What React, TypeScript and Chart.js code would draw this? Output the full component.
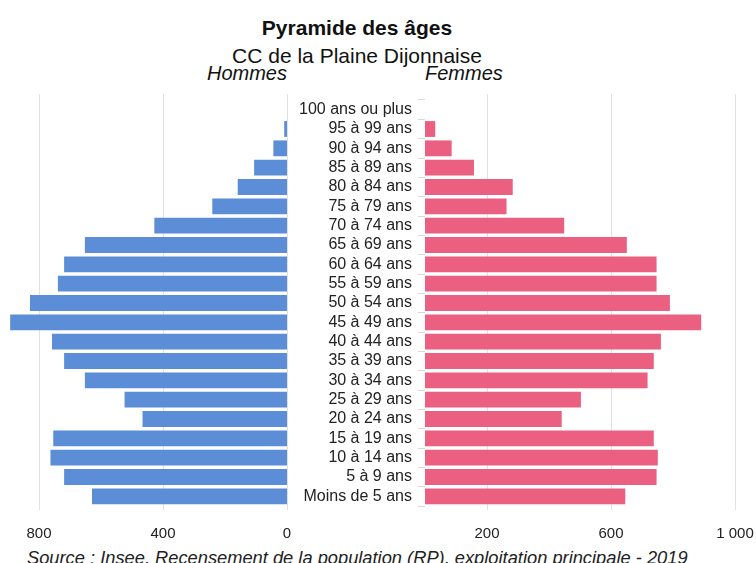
import React, { useEffect, useRef } from "react";
import { Chart, registerables } from "chart.js";

Chart.register(...registerables);

const CATEGORIES = [
  "100 ans ou plus", "95 à 99 ans", "90 à 94 ans", "85 à 89 ans", "80 à 84 ans",
  "75 à 79 ans", "70 à 74 ans", "65 à 69 ans", "60 à 64 ans", "55 à 59 ans",
  "50 à 54 ans", "45 à 49 ans", "40 à 44 ans", "35 à 39 ans", "30 à 34 ans",
  "25 à 29 ans", "20 à 24 ans", "15 à 19 ans", "10 à 14 ans", "5 à 9 ans",
  "Moins de 5 ans",
];
const HOMMES = [0, 9, 44, 106, 159, 241, 428, 652, 719, 739, 829, 893, 758, 719, 652, 524, 466, 754, 763, 719, 629];
const FEMMES = [0, 33, 86, 158, 283, 263, 449, 651, 747, 747, 790, 891, 761, 738, 718, 503, 441, 738, 751, 747, 646];
const LEFT_TICKS = [0, 400, 800];
const RIGHT_TICKS = [200, 600, 1000];

const TITLE = "Pyramide des âges";
const SUBTITLE = "CC de la Plaine Dijonnaise";
const SOURCE = "Source : Insee, Recensement de la population (RP), exploitation principale - 2019";

const FONT = "'Liberation Sans', Arial, sans-serif";
const BLUE = "#5b8ed6";
const PINK = "#eb6080";
const GRID = "#e0e0e0";

const fmt = (v: number) => String(v).replace(/\B(?=(\d{3})+(?!\d))/g, " ");

const zeroPad = (s: any) => {
  s.paddingTop = 0;
  s.paddingBottom = 0;
  s.paddingLeft = 0;
  s.paddingRight = 0;
};

const extGrid = {
  id: "extGrid",
  beforeDatasetsDraw(chart: any) {
    const s = chart.scales.x;
    const { top, bottom } = chart.chartArea;
    const ctx = chart.ctx;
    ctx.save();
    ctx.strokeStyle = GRID;
    ctx.lineWidth = 1;
    for (const t of s.ticks) {
      const x = Math.round(s.getPixelForValue(t.value)) + 0.5;
      ctx.beginPath();
      ctx.moveTo(x, top - 6);
      ctx.lineTo(x, bottom + 4);
      ctx.stroke();
    }
    ctx.restore();
  },
};

function baseOptions(padding: any): any {
  return {
    indexAxis: "y",
    animation: false,
    responsive: false,
    maintainAspectRatio: false,
    layout: { padding },
    plugins: { legend: { display: false }, tooltip: { enabled: false }, title: { display: false } },
    datasets: { bar: { barPercentage: 0.82, categoryPercentage: 1 } },
  };
}

export default function App() {
  const leftRef = useRef<HTMLCanvasElement>(null);
  const rightRef = useRef<HTMLCanvasElement>(null);

  useEffect(() => {
    const leftOpts = baseOptions({ left: 8, right: 13, top: 10, bottom: 4 });
    leftOpts.scales = {
      y: { display: false, afterFit: (s: any) => { zeroPad(s); } },
      x: {
        reverse: true,
        min: 0,
        max: 900,
        grid: { display: false },
        border: { display: false },
        afterBuildTicks: (s: any) => { s.ticks = LEFT_TICKS.map((v) => ({ value: v })); },
        afterFit: (s: any) => { s.height = 35; zeroPad(s); },
        ticks: { padding: 11, color: "#222", font: { family: FONT, size: 15 }, callback: (v: any) => fmt(Number(v)) },
      },
    };
    const left = new Chart(leftRef.current!, {
      type: "bar",
      data: { labels: CATEGORIES, datasets: [{ data: HOMMES, backgroundColor: BLUE, borderWidth: 0 }] },
      options: leftOpts,
      plugins: [extGrid],
    });

    const rightOpts = baseOptions({ left: 0, right: 21, top: 10, bottom: 4 });
    rightOpts.scales = {
      y: {
        afterFit: (s: any) => { s.width = 135; zeroPad(s); },
        grid: { display: true, drawOnChartArea: false, drawTicks: true, tickLength: 7, color: "#d9d9d9" },
        border: { display: false },
        ticks: { padding: 6, color: "#222", font: { family: FONT, size: 16 }, autoSkip: false },
      },
      x: {
        min: 0,
        max: 1000,
        grid: { display: false },
        border: { display: false },
        afterBuildTicks: (s: any) => { s.ticks = RIGHT_TICKS.map((v) => ({ value: v })); },
        afterFit: (s: any) => { s.height = 35; zeroPad(s); },
        ticks: { padding: 11, color: "#222", font: { family: FONT, size: 15 }, callback: (v: any) => fmt(Number(v)) },
      },
    };
    const right = new Chart(rightRef.current!, {
      type: "bar",
      data: { labels: CATEGORIES, datasets: [{ data: FEMMES, backgroundColor: PINK, borderWidth: 0 }] },
      options: rightOpts,
      plugins: [extGrid],
    });

    return () => {
      left.destroy();
      right.destroy();
    };
  }, []);

  const text = (style: React.CSSProperties, content: string) => (
    <div style={{ position: "absolute", whiteSpace: "nowrap", fontFamily: FONT, color: "#111", ...style }}>{content}</div>
  );

  return (
    <div style={{ position: "absolute", left: 0, top: 0, width: 756, height: 563, overflow: "hidden", background: "#fff" }}>
      {text({ left: 0, width: 714, top: 17, textAlign: "center", fontSize: 21, lineHeight: "21px", fontWeight: "bold" }, TITLE)}
      {text({ left: 0, width: 714, top: 45, textAlign: "center", fontSize: 21, lineHeight: "21px" }, SUBTITLE)}
      {text({ left: 0, width: 287, top: 63, textAlign: "right", fontSize: 20, lineHeight: "20px", fontStyle: "italic" }, "Hommes")}
      {text({ left: 425, top: 63, fontSize: 20, lineHeight: "20px", fontStyle: "italic" }, "Femmes")}
      <canvas ref={leftRef} width={300} height={455} style={{ position: "absolute", left: 0, top: 90, width: 300, height: 455 }} />
      <canvas ref={rightRef} width={466} height={455} style={{ position: "absolute", left: 290, top: 90, width: 466, height: 455 }} />
      {text({ left: 27, top: 549, fontSize: 18.3, lineHeight: "18px", fontStyle: "italic", color: "#222" }, SOURCE)}
    </div>
  );
}
